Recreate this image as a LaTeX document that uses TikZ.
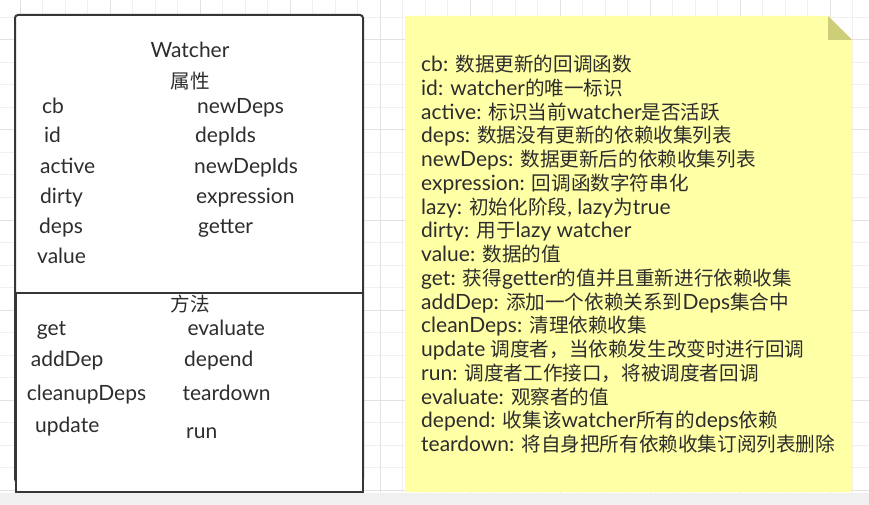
\documentclass[tikz,border=0pt]{standalone}
\usepackage{fontspec}
\setmainfont{Lato}[Scale=1.05]
\newfontfamily\zhfont{Noto Sans CJK SC}[Scale=0.98]
\newcommand{\zh}[1]{{\zhfont #1}}
\usepackage{xcolor}
\usepackage{tikz}
\usetikzlibrary{positioning}
\definecolor{ink}{RGB}{45,45,45}
\definecolor{frame}{RGB}{54,54,54}
\definecolor{gridminor}{RGB}{240,240,240}
\definecolor{gridmajor}{RGB}{226,226,226}
\definecolor{canvasgray}{RGB}{240,240,240}
\definecolor{notefill}{RGB}{255,255,166}
\definecolor{notefold}{RGB}{205,205,122}
\tikzset{
  member/.style={anchor=base west, inner sep=0pt, text=ink, font=\fontsize{20}{24}\selectfont},
  head/.style={member, anchor=base},
  frameline/.style={draw=frame, line width=2pt, fill=white},
}

\begin{document}
\begin{tikzpicture}[x=1pt,y=-1pt]
  \useasboundingbox (0,0) rectangle (869,505);
  % canvas grid
  \foreach \gx in {-2.5,20,...,870} \draw[gridminor, line width=1pt] (\gx,0) -- (\gx,492.5);
  \foreach \gy in {-5,17.5,...,492} \draw[gridminor, line width=1pt] (0,\gy) -- (869,\gy);
  \foreach \gx in {20,110,...,830} \draw[gridmajor, line width=1pt] (\gx,0) -- (\gx,492.5);
  \foreach \gy in {40,130,...,490} \draw[gridmajor, line width=1pt] (0,\gy) -- (869,\gy);
  \fill[canvasgray] (0,492.5) rectangle (869,505);

  % class box
  \draw[frameline, rounded corners=3pt] (15,15) rectangle (363,482);
  \draw[frameline] (16,293) rectangle (363,492);
  \node[head] (title) at (190,58) {Watcher};
  \node[head] (attrs) at (190,89) {\zh{属性}};
  \node[member] (cb) at (42,113.3) {cb};
  \node[member] (id) at (44,142.7) {id};
  \node[member] (active) at (40,173.3) {active};
  \node[member] (dirty) at (40,203.3) {dirty};
  \node[member] (deps) at (39,233.3) {deps};
  \node[member] (value) at (37,263.3) {value};
  \node[member] (newdeps) at (197,113.3) {newDeps};
  \node[member] (depids) at (195,142.7) {depIds};
  \node[member] (newdepids) at (194,173.3) {newDepIds};
  \node[member] (expression) at (196,203.3) {expression};
  \node[member] (getter) at (198,233.3) {getter};
  \node[head] (methods) at (190,311) {\zh{方法}};
  \node[member] (get) at (36.7,335) {get};
  \node[member] (adddep) at (30.7,366) {addDep};
  \node[member] (cleanupdeps) at (26.7,400.7) {cleanupDeps};
  \node[member] (update) at (35,432.7) {update};
  \node[member] (evaluate) at (187.3,335) {evaluate};
  \node[member] (depend) at (184,366) {depend};
  \node[member] (teardown) at (182.3,400.7) {teardown};
  \node[member] (run) at (186,438.3) {run};

  % note
  \fill[notefill] (405,16) -- (828,16) -- (852,40) -- (852,492) -- (405,492) -- cycle;
  \fill[notefold] (828,16) -- (828,40) -- (852,40) -- cycle;
  \foreach \txt [count=\i] in {
    {cb: \zh{数据更新的回调函数}},
    {id: watcher\zh{的唯一标识}},
    {active: \zh{标识当前}watcher\zh{是否活跃}},
    {deps: \zh{数据没有更新的依赖收集列表}},
    {newDeps: \zh{数据更新后的依赖收集列表}},
    {expression: \zh{回调函数字符串化}},
    {lazy: \zh{初始化阶段}, lazy\zh{为}true},
    {dirty: \zh{用于}lazy watcher},
    {value: \zh{数据的值}},
    {get: \zh{获得}getter\zh{的值并且重新进行依赖收集}},
    {addDep: \zh{添加一个依赖关系到}Deps\zh{集合中}},
    {cleanDeps: \zh{清理依赖收集}},
    {update \zh{调度者，当依赖发生改变时进行回调}},
    {run: \zh{调度者工作接口，将被调度者回调}},
    {evaluate: \zh{观察者的值}},
    {depend: \zh{收集该}watcher\zh{所有的}deps\zh{依赖}},
    {teardown: \zh{将自身把所有依赖收集订阅列表删除}}}
    \node[member] (note\i) at (421,{71.7+23.75*(\i-1)}) {\txt};
\end{tikzpicture}
\end{document}
